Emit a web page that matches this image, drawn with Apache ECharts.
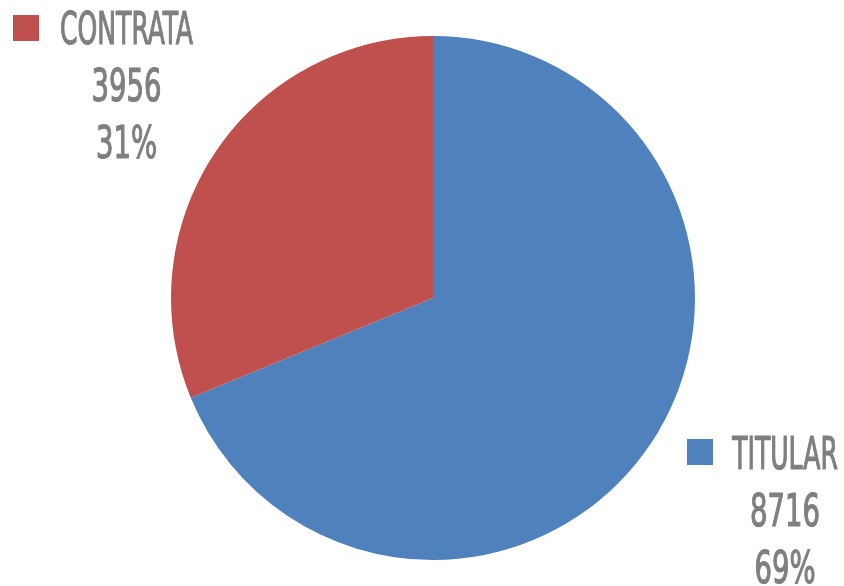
<!DOCTYPE html>
<html>
<head>
<meta charset="utf-8">
<script src="https://cdn.jsdelivr.net/npm/echarts@6/dist/echarts.min.js"></script>
<style>
  html, body { margin: 0; padding: 0; background: #ffffff; }
  #chart { width: 844px; height: 586px; }
</style>
</head>
<body>
<div id="chart"></div>
<script>
// ---- data ----
const categories = ['TITULAR', 'CONTRATA'];
const values = [8716, 3956];

// ---- styles / layout ----
const sliceColors = ['#4F81BD', '#C0504D'];
const textColor = '#7F7F7F';
const fontFamily = '"DejaVu Sans Condensed", "Liberation Sans Narrow", sans-serif';
const fontSize = 45;
// label block anchors (center x of text, first line center y, square left x, square top y)
const labelAnchors = [
  { cx: 785, y: 457, sqX: 687, sqY: 439 },
  { cx: 126.5, y: 32, sqX: 13, sqY: 15 }
];
const lineGap = 57;
const nameScale = 0.62;
const numScale = 0.68;

const total = values.reduce((a, b) => a + b, 0);
const percents = values.map(v => Math.round(v / total * 100) + '%');

function txt(content, x, y, sx) {
  return {
    type: 'text',
    x: x, y: y, scaleX: sx,
    silent: true,
    style: {
      text: content,
      font: fontSize + 'px ' + fontFamily,
      fill: textColor,
      stroke: textColor,
      lineWidth: 1.2,
      textAlign: 'center', align: 'center',
      textVerticalAlign: 'middle', verticalAlign: 'middle'
    }
  };
}

const graphics = [];
categories.forEach((name, i) => {
  const a = labelAnchors[i];
  graphics.push({
    type: 'rect', silent: true,
    shape: { x: a.sqX, y: a.sqY, width: 26, height: 26 },
    style: { fill: sliceColors[i] }
  });
  graphics.push(txt(name, a.cx, a.y, nameScale));
  graphics.push(txt(String(values[i]), a.cx, a.y + lineGap, numScale));
  graphics.push(txt(percents[i], a.cx, a.y + 2 * lineGap, numScale));
});

const chart = echarts.init(document.getElementById('chart'), null, { renderer: 'canvas' });
chart.setOption({
  animation: false,
  backgroundColor: '#ffffff',
  series: [{
    type: 'pie',
    center: [433, 298],
    radius: 262,
    startAngle: 90,
    clockwise: true,
    label: { show: false },
    labelLine: { show: false },
    itemStyle: { borderWidth: 0 },
    emphasis: { disabled: true },
    data: categories.map((n, i) => ({ name: n, value: values[i], itemStyle: { color: sliceColors[i] } }))
  }],
  graphic: graphics
});
</script>
</body>
</html>
